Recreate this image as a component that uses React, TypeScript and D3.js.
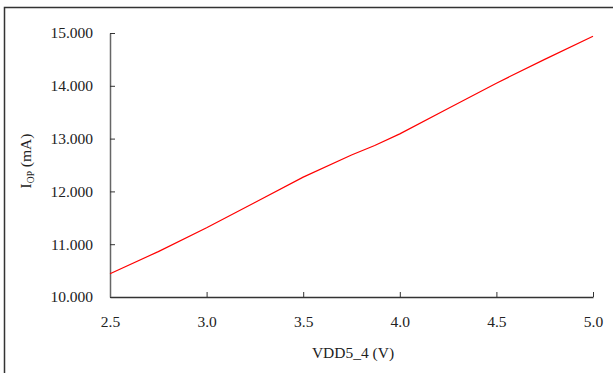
import * as React from 'react';
import * as d3 from 'd3';

const voltage = [2.5, 2.75, 3.0, 3.25, 3.5, 3.75, 3.87, 4.0, 4.25, 4.5, 4.75, 5.0];
const current = [10.44, 10.86, 11.31, 11.79, 12.27, 12.69, 12.87, 13.09, 13.57, 14.05, 14.5, 14.94];
const xTicks = [2.5, 3.0, 3.5, 4.0, 4.5, 5.0];
const yTicks = [10, 11, 12, 13, 14, 15];

const W = 613;
const H = 373;
const FONT = '"Liberation Serif", "DejaVu Serif", serif';

export default function App() {
    const ref = React.useRef<SVGSVGElement>(null);

    React.useEffect(() => {
        const svg = d3.select(ref.current);
        svg.selectAll('*').remove();

        const x = d3.scaleLinear().domain([2.5, 5.0]).range([110, 593]);
        const y = d3.scaleLinear().domain([10, 15]).range([297, 33]);

        // outer frame
        svg.append('rect')
            .attr('x', 4.5).attr('y', 7.5)
            .attr('width', W).attr('height', H)
            .attr('fill', 'white').attr('stroke', '#333').attr('stroke-width', 1.5);

        const xAxis = d3.axisBottom(x).tickValues(xTicks).tickSizeInner(-5).tickSizeOuter(0)
            .tickFormat(d3.format('.1f'));
        const gx = svg.append('g').attr('transform', 'translate(0,297)').call(xAxis)
            .attr('font-family', FONT).attr('font-size', 15.5);
        gx.select('.domain').attr('stroke', '#333').attr('stroke-width', 1.5);
        gx.selectAll('.tick line').attr('stroke', '#333');
        gx.selectAll('.tick text')
            .attr('y', 19).attr('dy', '0.71em').attr('fill', '#222');

        const yAxis = d3.axisLeft(y).tickValues(yTicks).tickSizeInner(-5).tickSizeOuter(0)
            .tickFormat(d3.format('.3f'));
        const gy = svg.append('g').attr('transform', 'translate(110,0)').call(yAxis)
            .attr('font-family', FONT).attr('font-size', 15.5);
        gy.select('.domain').attr('stroke', '#666').attr('stroke-width', 1.5);
        gy.selectAll('.tick line').attr('stroke', '#333');
        gy.selectAll('.tick text').attr('x', -17).attr('fill', '#222');

        const line = d3.line<number>()
            .x((d, i) => x(voltage[i]))
            .y(d => y(d));
        svg.append('path')
            .datum(current)
            .attr('d', line)
            .attr('fill', 'none')
            .attr('stroke', '#ff0000')
            .attr('stroke-width', 1.2);

        svg.append('text')
            .attr('x', 353).attr('y', 358)
            .attr('text-anchor', 'middle')
            .attr('font-family', FONT).attr('font-size', 15.5).attr('fill', '#222')
            .text('VDD5_4 (V)');

        const yl = svg.append('text')
            .attr('transform', 'translate(31,161) rotate(-90)')
            .attr('text-anchor', 'middle')
            .attr('font-family', FONT).attr('font-size', 15.5).attr('fill', '#222');
        yl.append('tspan').text('I');
        yl.append('tspan').attr('dy', 3).attr('font-size', 9.5).text('OP');
        yl.append('tspan').attr('dy', -3).text(' (mA)');
    }, []);

    return (
        <svg ref={ref} width={W} height={H} style={{position: 'absolute', left: 0, top: 0}} />
    );
}
